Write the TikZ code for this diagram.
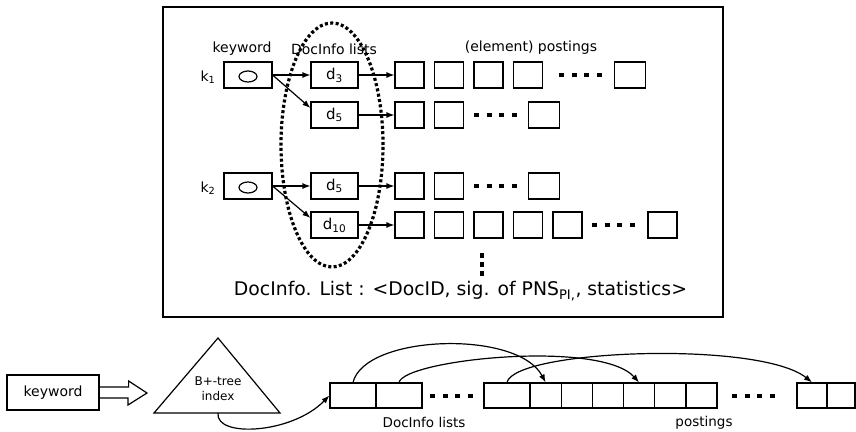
\documentclass[tikz,border=0pt]{standalone}
\usepackage{fontspec}
\setmainfont{DejaVu Sans}
\usetikzlibrary{arrows.meta}
\tikzset{
  ln/.style={line width=1.2pt},
  box/.style={draw, ln, minimum width=29pt, minimum height=26pt, inner sep=0pt},
  dbox/.style={box, minimum width=47pt, font=\fontsize{15}{17}\selectfont},
  kbox/.style={box, minimum width=48pt},
  bbox/.style={draw, ln, minimum width=46pt, minimum height=25pt, inner sep=0pt},
  pbox/.style={bbox, minimum width=31.2pt},
  lbl/.style={font=\fontsize{14}{16}\selectfont, inner sep=0pt},
  lbls/.style={font=\fontsize{13.5}{15}\selectfont, inner sep=0pt},
  arr/.style={ln, -{Latex[length=8pt,width=6pt]}},
  dotrow/.style={line width=4.8pt, dash pattern=on 5pt off 7.7pt},
  dotcol/.style={line width=4.8pt, dash pattern=on 4.5pt off 4.5pt},
  dotell/.style={line width=3.2pt, dash pattern=on 3pt off 2.4pt},
}
\begin{document}
\begin{tikzpicture}[x=1pt,y=-1pt]
\useasboundingbox (0,0) rectangle (856,431);
% ---------- top frame ----------
\node[draw, ln, minimum width=560pt, minimum height=310pt, inner sep=0pt] (frame) at (443,162) {};
\node[lbl] (lkw) at (242,49) {keyword};
\node[lbl] (ldl) at (334,49) {DocInfo lists};
\node[lbl] (lep) at (531,48) {(element) postings};
% keywords
\node[lbl] (lk1) at (208,77) {k\textsubscript{1}};
\node[kbox] (k1) at (248,75) {};
\draw[ln] ([yshift=-1.5pt]k1.center) ellipse [x radius=9pt, y radius=5.5pt];
\node[lbl] (lk2) at (208,188) {k\textsubscript{2}};
\node[kbox] (k2) at (248,186) {};
\draw[ln] ([yshift=-1.5pt]k2.center) ellipse [x radius=9pt, y radius=5.5pt];
% docinfo boxes
\node[dbox] (d3) at (334.5,75) {d\textsubscript{3}};
\node[dbox] (d5a) at (334.5,115) {d\textsubscript{5}};
\node[dbox] (d5b) at (334.5,186) {d\textsubscript{5}};
\node[dbox] (d10) at (334.5,225) {d\textsubscript{10}};
\draw[arr] (k1.east) -- (d3.west);
\draw[arr] (k1.east) -- ([yshift=7pt]d5a.west);
\draw[arr] (k2.east) -- (d5b.west);
\draw[arr] (k2.east) -- ([yshift=7pt]d10.west);
% row 1
\foreach \i/\x in {1/409.5,2/449,3/488.5,4/528} \node[box] (ra\i) at (\x,75) {};
\node[box, minimum width=31pt] (raz) at (630,75) {};
\draw[dotrow] (559,75) -- (602,75);
\draw[arr] (d3.east) -- (ra1.west);
% row 2
\foreach \i/\x in {1/409.5,2/449} \node[box] (rb\i) at (\x,115) {};
\node[box, minimum width=31pt] (rbz) at (544,115) {};
\draw[dotrow] (474,115) -- (517,115);
\draw[arr] (d5a.east) -- (rb1.west);
% row 3
\foreach \i/\x in {1/409.5,2/449} \node[box] (rc\i) at (\x,186) {};
\node[box, minimum width=31pt] (rcz) at (544,186) {};
\draw[dotrow] (474,186) -- (517,186);
\draw[arr] (d5b.east) -- (rc1.west);
% row 4
\foreach \i/\x in {1/409.5,2/449,3/488.5,4/528,5/567.5} \node[box] (rd\i) at (\x,225) {};
\node[box, minimum width=29pt] (rdz) at (662.5,225) {};
\draw[dotrow] (592,225) -- (635,225);
\draw[arr] (d10.east) -- (rd1.west);
% vertical dots
\draw[dotcol] (482,253) -- (482,276);
% dotted ellipse
\draw[dotell] (332,145) ellipse [x radius=51pt, y radius=122pt];
% caption
\node[font=\fontsize{18.8}{21}\selectfont, inner sep=0pt] (cap) at (460.5,291) {DocInfo. List : <DocID, sig. of PNS\textsubscript{PI,}, statistics>};
% ---------- bottom ----------
\node[draw, ln, minimum width=92pt, minimum height=35pt, lbl] (kw) at (53,392.5) {keyword};
\coordinate (tip) at (147,393);
\draw[ln, line join=miter] ([yshift=5.5pt]kw.east) -- ++(29,0) -- ++(0,-6) -- (tip) -- ++(-19,12) -- ++(0,-7) -- ([yshift=-5.5pt]kw.east);
\coordinate (ta) at (218,338);
\coordinate (tl) at (154,413);
\coordinate (tr) at (280,413);
\coordinate (tb) at (218,413);
\draw[ln, line join=miter] (ta) -- (tl) -- (tr) -- cycle;
\node[font=\fontsize{12}{15}\selectfont, align=center, inner sep=0pt] (btree) at (218,388.5) {B+-tree\\index};
% docinfo lists and postings
\node[bbox] (b1) at (353,395.5) {};
\node[bbox] (b2) at (399,395.5) {};
\draw[dotrow] (430,396) -- (473,396);
\node[bbox] (b3) at (507,395.5) {};
\foreach \i/\x in {1/545.6,2/576.8,3/607.9,4/639.1,5/670.3,6/701.4} \node[pbox] (p\i) at (\x,395.5) {};
\draw[dotrow] (732,396) -- (775,396);
\node[bbox, minimum width=30pt] (q1) at (812,395.5) {};
\node[bbox, minimum width=28pt] (q2) at (841,395.5) {};
\node[lbls] (ldl2) at (424,422) {DocInfo lists};
\node[lbls] (lpo) at (704,423) {postings};
% curves
\draw[arr] (tb) .. controls (215,438) and (292,434) .. (b1.west);
\draw[arr] (b1.north) .. controls +(12,-48) and +(-28,-53) .. (p1.north);
\draw[arr] (b2.north) .. controls +(6,-23) and +(-39,-43) .. (p4.north);
\draw[arr] (b3.north) .. controls +(8,-33) and +(-52,-42) .. (q1.north);
\end{tikzpicture}
\end{document}
